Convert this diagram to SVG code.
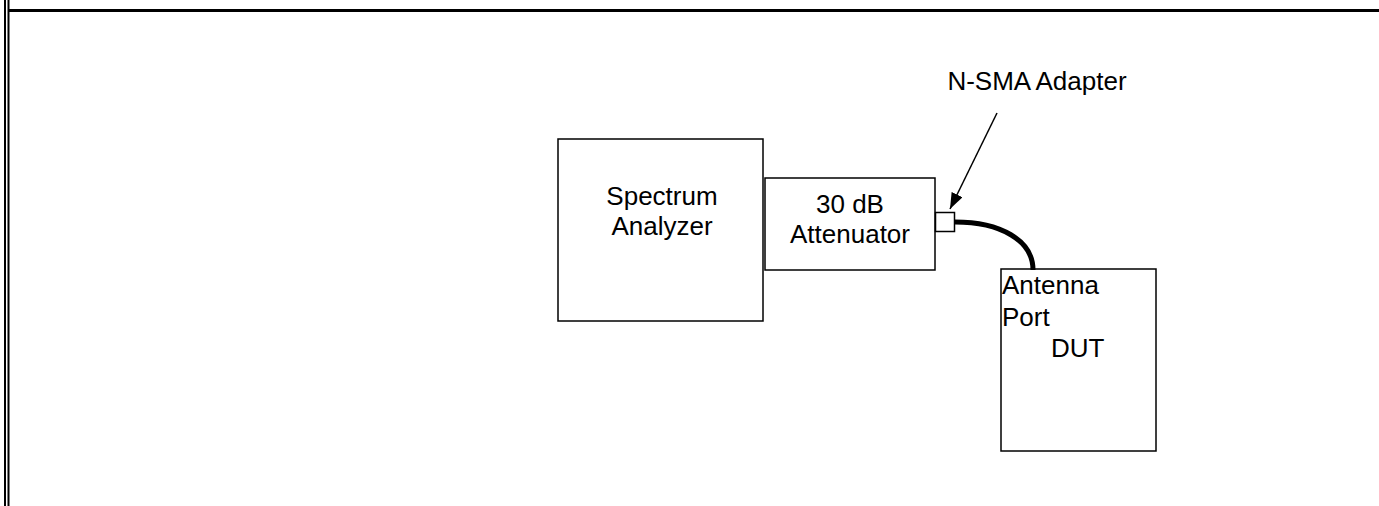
<svg xmlns="http://www.w3.org/2000/svg" width="1379" height="506" viewBox="0 0 1379 506">
<style>
.box{fill:#fff;stroke:#000;stroke-width:1.5}
.lbl{font-family:"Liberation Sans",Arial,sans-serif;font-size:26px;fill:#000}
</style>
<defs>
<marker id="ah" markerWidth="16" markerHeight="12" refX="16" refY="6" orient="auto" markerUnits="userSpaceOnUse" viewBox="0 0 16 12">
<path d="M0,0 L16,6 L0,12 z" fill="#000"/>
</marker>
</defs>
<rect width="1379" height="506" fill="#fff"/>
<g id="frame">
<line x1="5" y1="0" x2="5" y2="506" stroke="#000" stroke-width="2"/>
<line x1="8.5" y1="0" x2="8.5" y2="506" stroke="#000" stroke-width="2"/>
<line x1="9" y1="10.5" x2="1379" y2="10.5" stroke="#000" stroke-width="3"/>
</g>
<g id="spectrum-analyzer">
<rect class="box" x="558" y="139" width="205" height="182"/>
<text class="lbl" x="662" y="205" text-anchor="middle">Spectrum</text>
<text class="lbl" x="662" y="235" text-anchor="middle">Analyzer</text>
</g>
<g id="attenuator">
<rect class="box" x="765" y="178" width="170" height="92"/>
<text class="lbl" x="850" y="213" text-anchor="middle">30 dB</text>
<text class="lbl" x="850" y="243" text-anchor="middle">Attenuator</text>
</g>
<g id="adapter">
<rect class="box" x="935.5" y="212.5" width="19" height="19"/>
</g>
<g id="dut">
<rect class="box" x="1001" y="269" width="155" height="182"/>
<text class="lbl" x="1002" y="294">Antenna</text>
<text class="lbl" x="1002" y="326">Port</text>
<text class="lbl" x="1051" y="357">DUT</text>
</g>
<g id="adapter-label">
<text class="lbl" x="1037" y="90" text-anchor="middle">N-SMA Adapter</text>
</g>
<g id="connectors">
<path d="M955,222 C1000,222 1033,240 1033,270" fill="none" stroke="#000" stroke-width="5"/>
<line x1="997" y1="113" x2="950" y2="209" stroke="#000" stroke-width="1.5" marker-end="url(#ah)"/>
</g>
</svg>
